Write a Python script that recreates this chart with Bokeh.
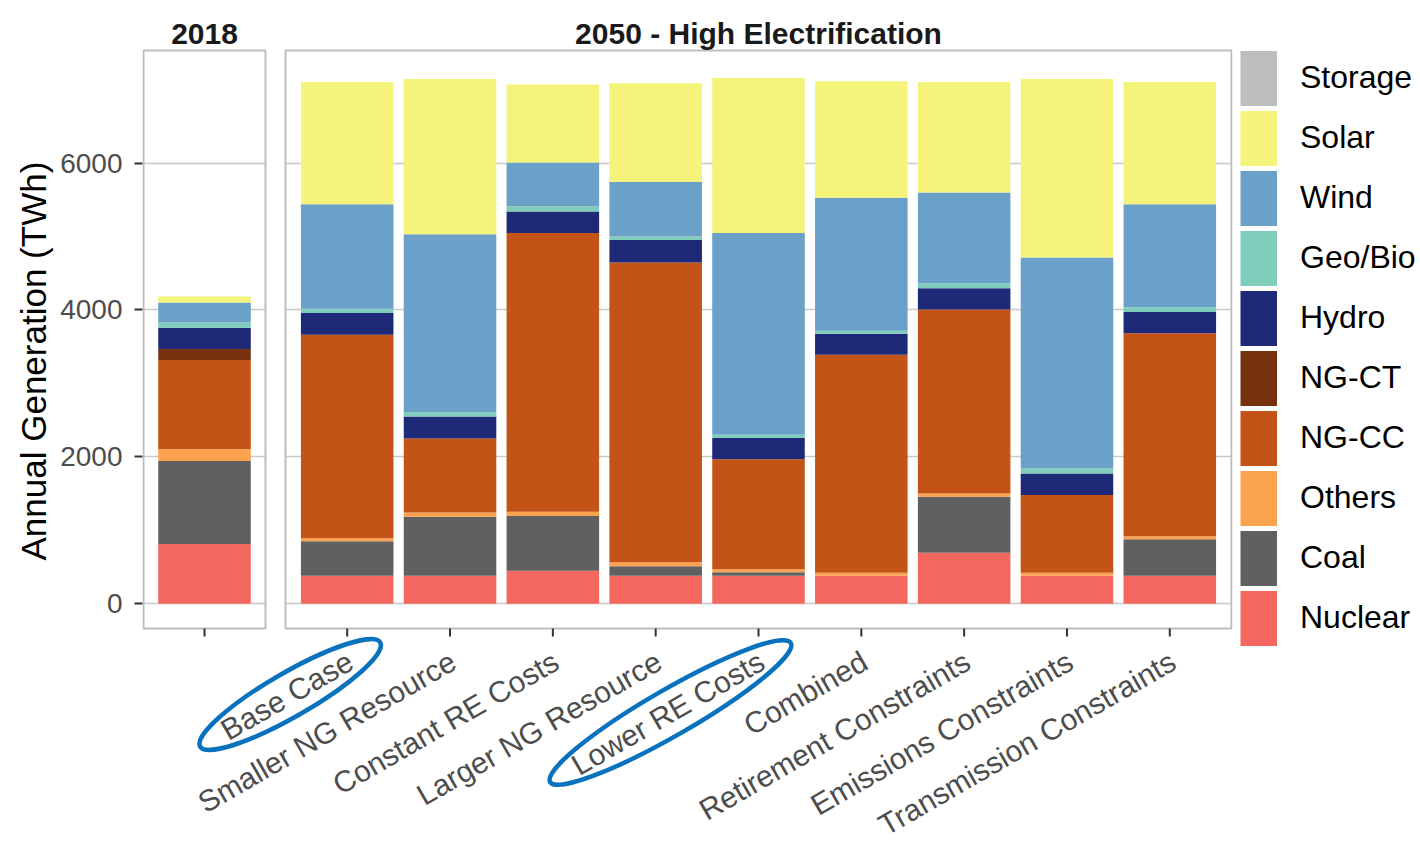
import math

from bokeh.core.properties import value
from bokeh.embed import file_html
from bokeh.models import (ColumnDataSource, FixedTicker, Legend, LegendItem,
                          Range1d, Title)
from bokeh.plotting import figure
from bokeh.resources import INLINE

# ---------------------------------------------------------------- data
technologies = ["Nuclear", "Coal", "Others", "NG-CC", "NG-CT",
                "Hydro", "Geo/Bio", "Wind", "Solar", "Storage"]
tech_colors = ["#F4675F", "#606060", "#FBA24F", "#C45317", "#76320F",
               "#1E2A78", "#7FCDBB", "#6BA1C9", "#F4F47A", "#BEBEBE"]

# 2018 generation mix (TWh)
years = ["2018"]
nuclear_2018 = [814]
coal_2018 = [1128]
others_2018 = [161]
ngcc_2018 = [1215]
ngct_2018 = [149]
hydro_2018 = [292]
geobio_2018 = [69]
wind_2018 = [275]
solar_2018 = [80]
storage_2018 = [0]

# 2050 High Electrification scenarios (TWh)
scenarios = ["Base Case", "Smaller NG Resource", "Constant RE Costs",
             "Larger NG Resource", "Lower RE Costs", "Combined",
             "Retirement Constraints", "Emissions Constraints",
             "Transmission Constraints"]
nuclear_2050 = [381, 381, 448, 381, 381, 381, 694, 381, 381]
coal_2050 = [469, 803, 746, 130, 47, 0, 761, 0, 495]
others_2050 = [42, 57, 58, 52, 41, 41, 47, 41, 42]
ngcc_2050 = [2769, 1007, 3796, 4084, 1497, 2968, 2503, 1059, 2764]
ngct_2050 = [0, 0, 0, 0, 0, 0, 0, 0, 0]
hydro_2050 = [297, 302, 292, 307, 292, 287, 292, 292, 292]
geobio_2050 = [58, 58, 73, 47, 42, 41, 68, 73, 62]
wind_2050 = [1423, 2424, 595, 741, 2748, 1810, 1236, 2868, 1403]
solar_2050 = [1664, 2113, 1064, 1345, 2112, 1585, 1502, 2431, 1664]
storage_2050 = [0, 0, 0, 0, 0, 0, 0, 0, 0]

y_ticks = [0, 2000, 4000, 6000]
panel_titles = ["2018", "2050 - High Electrification"]
highlighted = ["Base Case", "Lower RE Costs"]

# ---------------------------------------------------------------- layout
FONT = "Liberation Sans"
TICK_GREY = "#4D4D4D"
BORDER_GREY = "#BDBDBD"
GRID_GREY = "#C9C9C9"
RING_BLUE = "#0872BE"

W, H = 1420, 841
FRAME_L, FRAME_R = 142, 1232          # plot frame, canvas pixels
PANEL_TOP_PX, PANEL_BOT_PX = 50, 628  # facet panels, canvas pixels
P1_L_PX, P1_R_PX = 143, 265           # 2018 panel
P2_L_PX, P2_R_PX = 285, 1231          # 2050 panel
ZERO_PX, SIX_K_PX = 603.2, 162.6      # where 0 and 6000 TWh sit

twh_per_px = 6000 / (ZERO_PX - SIX_K_PX)
unit_px = (P2_R_PX - P2_L_PX) / (len(scenarios) + 0.2)


def y_at(py):
    return (ZERO_PX - py) * twh_per_px


def x_at(px):
    return 0.4 + (px - P2_L_PX) / unit_px


panel_bottom, panel_top = y_at(PANEL_BOT_PX), y_at(PANEL_TOP_PX)
p1_left, p1_right = x_at(P1_L_PX), x_at(P1_R_PX)
p2_left, p2_right = x_at(P2_L_PX), x_at(P2_R_PX)

p = figure(width=W, height=H, frame_width=FRAME_R - FRAME_L, frame_height=H,
           x_range=Range1d(x_at(FRAME_L), x_at(FRAME_R)),
           y_range=Range1d(y_at(H), y_at(0)),
           x_axis_location=None,
           min_border_left=FRAME_L, min_border_right=W - FRAME_R,
           min_border_top=0, min_border_bottom=0,
           output_backend="svg", toolbar_location=None)
p.title = None
p.outline_line_color = None
p.background_fill_color = "white"
p.border_fill_color = "white"
p.xgrid.visible = False

# y axis and horizontal grid
p.yaxis.ticker = FixedTicker(ticks=y_ticks)
p.yaxis.axis_line_color = None
p.yaxis.major_tick_line_color = "#333333"
p.yaxis.major_tick_line_width = 2
p.yaxis.major_tick_out = 8
p.yaxis.major_tick_in = 0
p.yaxis.minor_tick_line_color = None
p.yaxis.major_label_text_font = FONT
p.yaxis.major_label_text_font_size = "28px"
p.yaxis.major_label_text_color = TICK_GREY
p.yaxis.major_label_standoff = 12
p.ygrid.ticker = FixedTicker(ticks=y_ticks)
p.ygrid.grid_line_color = GRID_GREY
p.ygrid.grid_line_width = 1.5
p.add_layout(Title(text="Annual Generation (TWh)", align="left",
                   offset=H - 560, standoff=10, text_font=FONT,
                   text_font_size="35px", text_font_style="normal",
                   text_color="black"), "left")

# blank strip between the two facet panels
p.quad(left=[p1_right], right=[p2_left], bottom=[panel_bottom],
       top=[panel_top], fill_color="white", line_color=None)


def stacked_source(xs, cols):
    data = {"x": xs}
    data.update(dict(zip(technologies, cols)))
    return ColumnDataSource(data)


# 2018 bar, centred in its panel
x_2018 = [(p1_left + p1_right) / 2]
src_2018 = stacked_source(x_2018, [nuclear_2018, coal_2018, others_2018,
                                   ngcc_2018, ngct_2018, hydro_2018,
                                   geobio_2018, wind_2018, solar_2018,
                                   storage_2018])
p.vbar_stack(technologies, x="x", width=0.9, color=tech_colors,
             line_color=None, source=src_2018)

# 2050 scenario bars
x_2050 = [i + 1 for i in range(len(scenarios))]
src_2050 = stacked_source(x_2050, [nuclear_2050, coal_2050, others_2050,
                                   ngcc_2050, ngct_2050, hydro_2050,
                                   geobio_2050, wind_2050, solar_2050,
                                   storage_2050])
p.vbar_stack(technologies, x="x", width=0.9, color=tech_colors,
             line_color=None, source=src_2050)

# panel borders
p.quad(left=[p1_left, p2_left], right=[p1_right, p2_right],
       bottom=[panel_bottom] * 2, top=[panel_top] * 2,
       fill_color=None, line_color=BORDER_GREY, line_width=2)

# facet strip titles
p.text(x=[(p1_left + p1_right) / 2, (p2_left + p2_right) / 2],
       y=[y_at(33)] * 2, text=panel_titles,
       text_align="center", text_baseline="alphabetic",
       text_font=value(FONT), text_font_size=value("30px"),
       text_font_style="bold", text_color="#1A1A1A")

# x ticks and rotated scenario labels
tick_x = x_2018 + x_2050
p.segment(x0=tick_x, y0=[panel_bottom] * len(tick_x),
          x1=tick_x, y1=[y_at(PANEL_BOT_PX + 8)] * len(tick_x),
          line_color="#333333", line_width=2)
label_dx = -5 / unit_px
p.text(x=[x + label_dx for x in x_2050],
       y=[y_at(PANEL_BOT_PX + 16)] * len(x_2050), text=scenarios,
       angle=math.radians(30), text_align="right", text_baseline="top",
       text_font=value(FONT), text_font_size=value("30px"),
       text_color=TICK_GREY)

# rings around the highlighted scenario labels:
# (offset from tick in px, offset below the panel in px, semi-axes in px)
rings = {"Base Case": (-57, 66, 104, 22), "Lower RE Costs": (-88, 84, 139, 23)}
ring_x, ring_y, ring_w, ring_h = [], [], [], []
for name in highlighted:
    dx, dy, a, b = rings[name]
    ring_x.append(x_2050[scenarios.index(name)] + dx / unit_px)
    ring_y.append(y_at(PANEL_BOT_PX + dy))
    ring_w.append(2 * a)
    ring_h.append(2 * b)
p.ellipse(x=ring_x, y=ring_y, width=ring_w, height=ring_h,
          width_units="screen", height_units="screen",
          angle=math.radians(30), fill_color=None,
          line_color=RING_BLUE, line_width=4.5)

# legend keys: thick, zero-length line renderers (nothing drawn in the
# panels) give solid, un-inset legend swatches
KEY_W, KEY_H, PITCH = 37, 55, 60
KEY_LEFT_PX, LABEL_LEFT_PX = 1240, 1300
keys = {t: p.segment(x0=[x_2050[0]], y0=[0], x1=[x_2050[0]], y1=[0],
                     line_color=c, line_width=KEY_H, line_cap="butt")
        for t, c in zip(technologies, tech_colors)}
items = [LegendItem(label=t, renderers=[keys[t]]) for t in technologies][::-1]
legend_h = len(items) * PITCH
legend_top = PANEL_TOP_PX - (PITCH - KEY_H) / 2
legend = Legend(items=items,
                location=(KEY_LEFT_PX - FRAME_R, H - legend_top - legend_h),
                glyph_width=KEY_W, glyph_height=PITCH, label_height=PITCH,
                spacing=0, padding=0, margin=0,
                label_standoff=LABEL_LEFT_PX - KEY_LEFT_PX - KEY_W,
                label_text_font=FONT, label_text_font_size="32px",
                label_text_color="black",
                border_line_color=None, background_fill_alpha=0)
p.add_layout(legend, "right")

open("out.html", "w").write(file_html(p, INLINE))
